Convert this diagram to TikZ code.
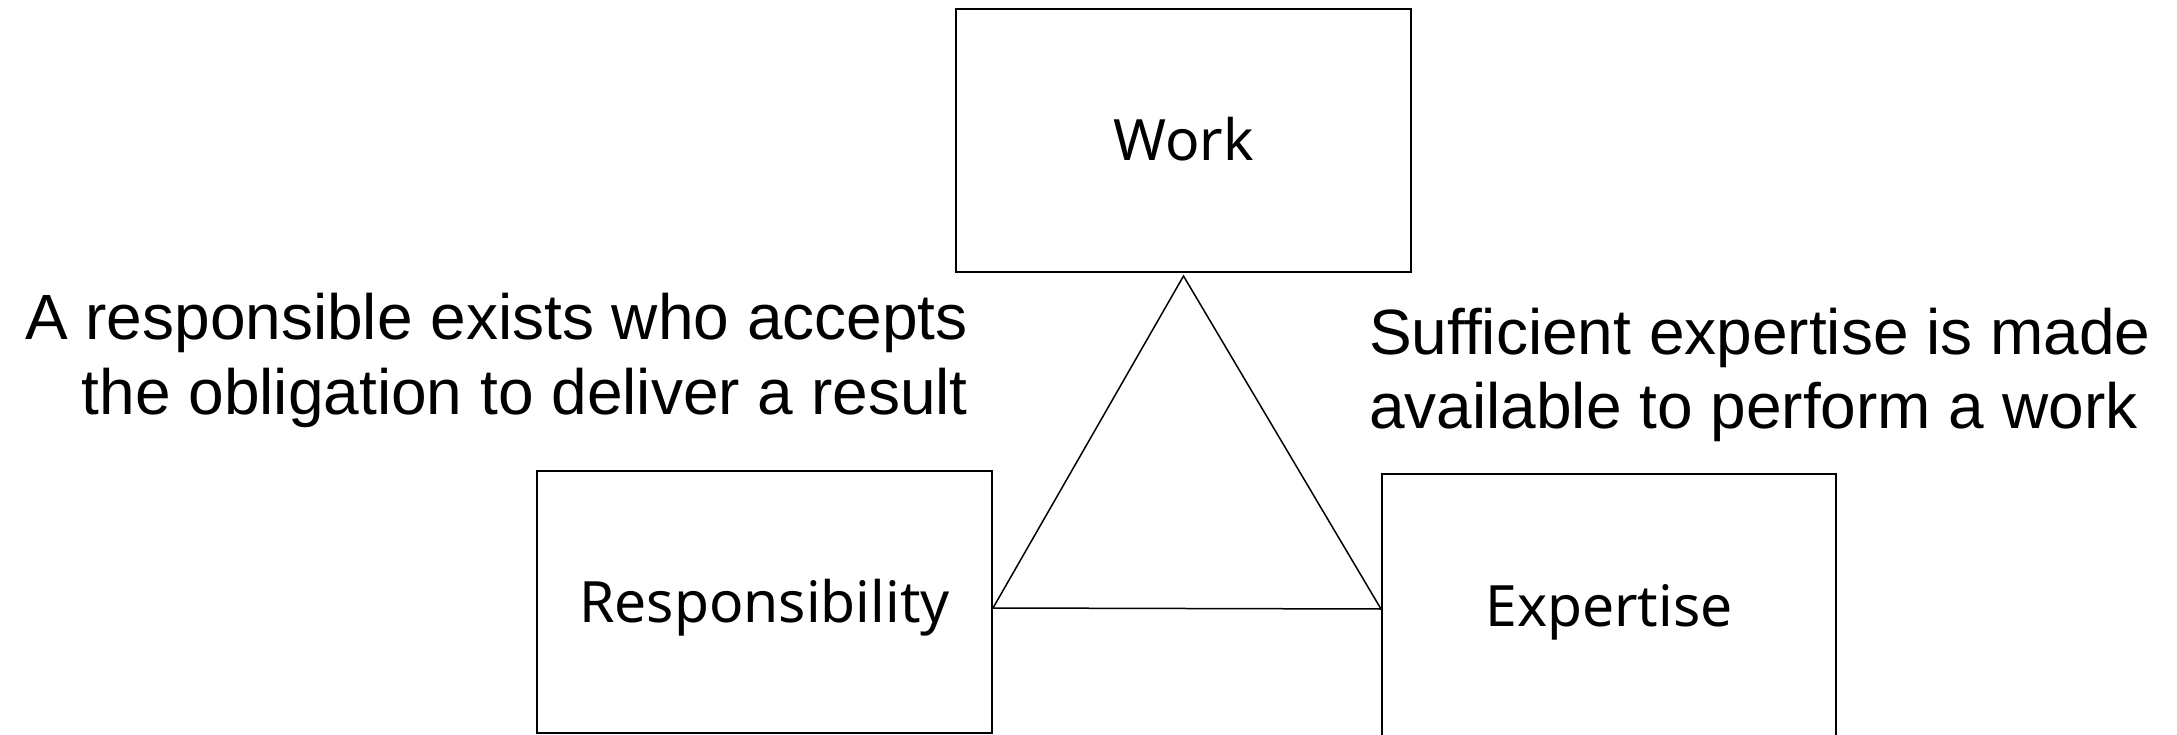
\documentclass[tikz,border=0pt]{standalone}
\usepackage{fontspec}
\setmainfont{Noto Sans}
\newfontfamily\notefont{Liberation Sans}
\begin{document}
\begin{tikzpicture}[x=1pt,y=-1pt,
  box/.style={draw=black,line width=2pt,minimum width=455pt,inner sep=0pt,text height=41pt,text depth=0pt,font=\fontsize{57}{68}\selectfont},
  note/.style={inner sep=0pt,font=\notefont\fontsize{64}{74}\selectfont},
  tri/.style={draw=black,line width=1.5pt,line join=miter}]
\useasboundingbox (0,0) rectangle (2177,735);
\begin{scope}
\clip (0,0) rectangle (2177,735);
\node[box,minimum height=263pt] (work) at (1183.5,140.5) {Work};
\node[box,minimum height=262pt] (resp) at (764.5,602) {Responsibility};
\node[box,minimum height=264pt,minimum width=454pt] (exp) at (1609,606) {Expertise};
\coordinate (ta) at ([yshift=-3pt]work.south);
\coordinate (tl) at ([yshift=-6pt]resp.east);
\coordinate (tr) at ([yshift=-3pt]exp.west);
\draw[tri] (ta) -- (tl) -- (tr) -- cycle;
\node[note,anchor=base east] (l1) at (968,340) {A responsible exists who accepts};
\node[note,anchor=base east] (l2) at (968,414) {the obligation to deliver a result};
\node[note,anchor=base west] (r1) at (1369,354) {Sufficient expertise is made};
\node[note,anchor=base west] (r2) at (1369,428) {available to perform a work};
\end{scope}
\end{tikzpicture}
\end{document}
